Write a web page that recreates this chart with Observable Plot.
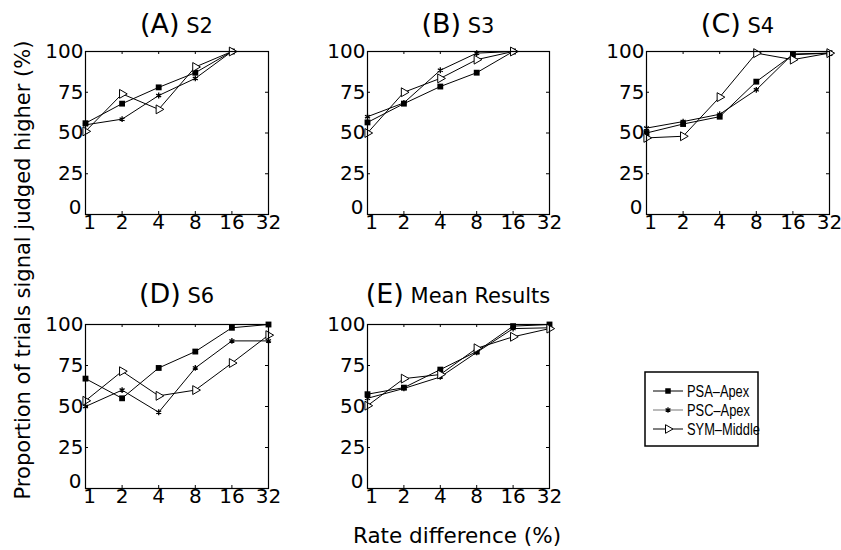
<!DOCTYPE html>
<html><head><meta charset="utf-8">
<script src="https://cdn.jsdelivr.net/npm/d3@7"></script>
<script src="https://cdn.jsdelivr.net/npm/@observablehq/plot@0.6"></script>
<style>
body{margin:0;background:#fff;}
#root{position:relative;width:841px;height:550px;overflow:hidden;background:#fff;}
.panel{position:absolute;}
#overlay{position:absolute;left:0;top:0;pointer-events:none;}
</style></head><body><div id="root"></div>
<script>
// ---- data ----
const rateDiffs = [1, 2, 4, 8, 16, 32];
const yTicks = [0, 25, 50, 75, 100];
const seriesNames = ["PSA\u2013Apex", "PSC\u2013Apex", "SYM\u2013Middle"];
const panelLetters = ["(A)", "(B)", "(C)", "(D)", "(E)"];
const panelSubjects = ["S2", "S3", "S4", "S6", "Mean Results"];
const xTitle = "Rate difference (%)";
const yTitle = "Proportion of trials signal judged higher (%)";

const s2PSA = [56, 68, 78, 87, 100, null];
const s2PSC = [55, 58.5, 73, 83.5, 100, null];
const s2SYM = [51, 74, 64.5, 90.5, 100, null];

const s3PSA = [56.5, 68, 78.5, 87, 100, null];
const s3PSC = [60, 68.5, 88.5, 99, 100, null];
const s3SYM = [50, 75, 83.5, 95, 100, null];

const s4PSA = [50, 55.5, 60, 81.5, 98, 99];
const s4PSC = [53, 57, 61.5, 76.5, 98.5, 99];
const s4SYM = [47, 48, 72, 99, 95, 99];

const s6PSA = [67, 55, 73.5, 83.5, 98, 100];
const s6PSC = [50, 60, 46.5, 73.5, 90, 90];
const s6SYM = [53.5, 71.5, 56.5, 60, 76.5, 93.5];

const meanPSA = [57.5, 61.5, 72.5, 83.5, 99, 100];
const meanPSC = [55, 61, 68, 83, 97.5, 98];
const meanSYM = [50.5, 67, 69.5, 85.5, 92.5, 97.5];

const panelSeries = [
  [s2PSA, s2PSC, s2SYM],
  [s3PSA, s3PSC, s3SYM],
  [s4PSA, s4PSC, s4SYM],
  [s6PSA, s6PSC, s6SYM],
  [meanPSA, meanPSC, meanSYM]
];

// ---- layout ----
const frames = [
  {left: 85, top: 51, w: 183, h: 163},
  {left: 367, top: 51, w: 182, h: 163},
  {left: 646, top: 51, w: 183, h: 163},
  {left: 85, top: 324, w: 183, h: 164},
  {left: 367, top: 324, w: 182, h: 164}
];
const mL = 50, mR = 16, mT = 12, mB = 32;
const FONT = "DejaVu Sans, sans-serif";
const TICKFS = 20;

const root = document.getElementById("root");

function rowsFor(series) {
  const rows = [];
  series.forEach((vals, si) => {
    vals.forEach((v, i) => { if (v != null) rows.push({x: rateDiffs[i], y: v, s: si}); });
  });
  return rows;
}

panelSeries.forEach((series, p) => {
  const f = frames[p];
  const rows = rowsFor(series);
  const chart = Plot.plot({
    width: mL + f.w + mR, height: mT + f.h + mB,
    marginLeft: mL, marginRight: mR, marginTop: mT, marginBottom: mB,
    style: {fontFamily: FONT, fontSize: TICKFS + "px", color: "#000", background: "transparent", overflow: "visible"},
    x: {type: "log", base: 2, domain: [1, 32]},
    y: {domain: [0, 100]},
    marks: [
      Plot.axisX({ticks: rateDiffs.filter(d => d > 1), tickSize: 0, tickPadding: 0, tickFormat: d => String(d), label: null, fontSize: TICKFS}),
      Plot.axisX({ticks: rateDiffs.filter(d => d === 1), tickSize: 0, tickPadding: 0, dx: 4, tickFormat: d => String(d), label: null, fontSize: TICKFS}),
      Plot.axisY({ticks: yTicks.filter(d => d > 0), tickSize: 0, tickPadding: 2, tickFormat: d => String(d), label: null, fontSize: TICKFS}),
      Plot.axisY({ticks: yTicks.filter(d => d === 0), tickSize: 0, tickPadding: 4, dy: -7, tickFormat: d => String(d), label: null, fontSize: TICKFS}),
      Plot.ruleX(rateDiffs, {x: d => d, insetTop: f.h - 3, stroke: "black"}),
      Plot.ruleX(rateDiffs, {x: d => d, insetBottom: f.h - 3, stroke: "black"}),
      Plot.ruleY(yTicks, {y: d => d, insetRight: f.w - 3, stroke: "black"}),
      Plot.ruleY(yTicks, {y: d => d, insetLeft: f.w - 3, stroke: "black"}),
      Plot.line(rows, {x: "x", y: "y", z: "s", stroke: "black", strokeWidth: 1}),
      Plot.dot(rows.filter(d => d.s === 0), {x: "x", y: "y", symbol: "square", r: 3.3, fill: "black", stroke: "none"}),
      Plot.dot(rows.filter(d => d.s === 1), {x: "x", y: "y", symbol: "asterisk", r: 2.7, stroke: "black", strokeWidth: 1.3}),
      Plot.dot(rows.filter(d => d.s === 2), {x: "x", y: "y", symbol: "triangle", r: 3.3, rotate: 90, fill: "white", stroke: "black", strokeWidth: 1}),
      Plot.frame({stroke: "black", strokeWidth: 1.2})
    ]
  });
  chart.classList.add("panel");
  chart.style.left = (f.left - mL) + "px";
  chart.style.top = (f.top - mT) + "px";
  root.appendChild(chart);
});

// ---- overlay: titles, axis titles, legend ----
const svg = d3.select(root).append("svg").attr("id", "overlay")
  .attr("width", 841).attr("height", 550).style("font-family", FONT);

const titleBaselines = [33, 33, 33, 303, 303];
frames.forEach((f, p) => {
  const t = svg.append("text").attr("x", f.left + f.w / 2).attr("y", titleBaselines[p])
    .attr("text-anchor", "middle").attr("fill", "black");
  t.append("tspan").attr("font-size", 27).text(panelLetters[p]);
  t.append("tspan").attr("font-size", 21).text(" " + panelSubjects[p]);
});

svg.append("text").attr("transform", "translate(30,270) rotate(-90)")
  .attr("text-anchor", "middle").attr("font-size", 21).attr("fill", "black").text(yTitle);
svg.append("text").attr("x", 457).attr("y", 543)
  .attr("text-anchor", "middle").attr("font-size", 21.5).attr("fill", "black").text(xTitle);

// legend
const lg = svg.append("g");
lg.append("rect").attr("x", 645).attr("y", 372).attr("width", 113).attr("height", 74)
  .attr("fill", "white").attr("stroke", "black").attr("stroke-width", 1.5);
const rowY = [391, 410, 429];
const lineColors = ["black", "#777", "black"];
seriesNames.forEach((name, i) => {
  const y = rowY[i];
  lg.append("line").attr("x1", 653).attr("x2", 683).attr("y1", y).attr("y2", y)
    .attr("stroke", lineColors[i]).attr("stroke-width", 1);
  if (i === 0) {
    lg.append("path").attr("transform", `translate(668,${y})`)
      .attr("d", d3.symbol(d3.symbolSquare, Math.PI * 3.1 * 3.1)()).attr("fill", "black");
  } else if (i === 1) {
    lg.append("path").attr("transform", `translate(668,${y})`)
      .attr("d", d3.symbol(d3.symbolAsterisk, Math.PI * 2.6 * 2.6)()).attr("fill", "none")
      .attr("stroke", "black").attr("stroke-width", 1.2);
  } else {
    lg.append("path").attr("transform", `translate(668,${y}) rotate(90)`)
      .attr("d", d3.symbol(d3.symbolTriangle, Math.PI * 3.2 * 3.2)()).attr("fill", "white")
      .attr("stroke", "black").attr("stroke-width", 1);
  }
  lg.append("text").attr("transform", `translate(687,${y}) scale(0.78,1)`).attr("dy", "0.36em")
    .attr("font-family", "'Liberation Sans', Arial, sans-serif")
    .attr("font-size", 16.5).attr("fill", "black").text(name);
});
</script>
</body></html>
